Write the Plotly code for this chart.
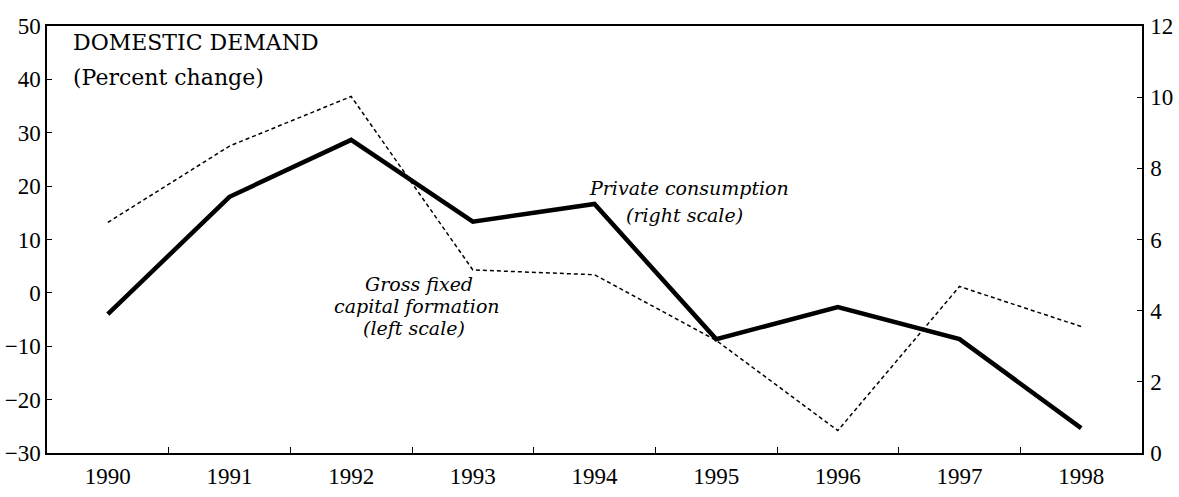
import plotly.graph_objects as go

years = [1990, 1991, 1992, 1993, 1994, 1995, 1996, 1997, 1998]
gfcf_left = [13.2, 27.5, 36.8, 4.3, 3.4, -8.9, -25.8, 1.2, -6.3]
private_cons_right = [3.9, 7.2, 8.8, 6.5, 7.0, 3.2, 4.1, 3.2, 0.7]
left_ticks = [-30, -20, -10, 0, 10, 20, 30, 40, 50]
right_ticks = [0, 2, 4, 6, 8, 10, 12]
year_labels = [str(y) for y in years]

TICKFONT = "Liberation Serif, DejaVu Serif, serif"

fig = go.Figure()
fig.add_trace(go.Scatter(
    x=years, y=gfcf_left, mode="lines", yaxis="y",
    line=dict(color="black", width=1.5, dash="4px,3px"),
    name="Gross fixed capital formation (left scale)", showlegend=False))
fig.add_trace(go.Scatter(
    x=years, y=private_cons_right, mode="lines", yaxis="y2",
    line=dict(color="black", width=4.5),
    name="Private consumption (right scale)", showlegend=False))

axis_font = dict(family=TICKFONT, size=23, color="black")

fig.update_layout(
    width=1179, height=497,
    margin=dict(l=47, r=37, t=26, b=44),
    paper_bgcolor="white", plot_bgcolor="white",
    xaxis=dict(
        range=[1989.5, 1998.5], tickmode="array", tickvals=years, ticktext=year_labels,
        ticks="inside", ticklen=0, showgrid=False, zeroline=False, automargin=False,
        showline=True, mirror=True, linecolor="black", linewidth=1.5,
        tickfont=axis_font, ticklabelstandoff=2,
        minor=dict(ticks="inside", tick0=1990.5, dtick=1, ticklen=6,
                   tickcolor="black", tickwidth=1, showgrid=False),
    ),
    yaxis=dict(
        range=[-30, 50], tickmode="array", tickvals=left_ticks,
        ticks="inside", ticklen=5, tickcolor="black", automargin=False,
        showgrid=False, zeroline=False,
        showline=True, linecolor="black", linewidth=1.5,
        tickfont=axis_font, ticklabelstandoff=0,
    ),
    yaxis2=dict(
        range=[0, 12], overlaying="y", side="right", tickmode="array", tickvals=right_ticks,
        ticks="inside", ticklen=5, tickcolor="black", automargin=False,
        showgrid=False, zeroline=False,
        showline=True, linecolor="black", linewidth=1.5,
        tickfont=axis_font, ticklabelstandoff=2,
    ),
    font=dict(family=TICKFONT, color="black"),
)

title_font = dict(family="DejaVu Serif, Liberation Serif, serif", size=22, color="black")
fig.add_annotation(xref="paper", yref="paper", x=0.022, y=0.962, xanchor="left", yanchor="middle",
                   text="DOMESTIC DEMAND", showarrow=False, font=title_font)
fig.add_annotation(xref="paper", yref="paper", x=0.022, y=0.88, xanchor="left", yanchor="middle",
                   text="(Percent change)", showarrow=False, font=title_font)

label_font = dict(family="DejaVu Serif, Liberation Serif, serif", size=19, color="black", style="italic")
fig.add_annotation(x=1994.78, y=19.6, xref="x", yref="y", text="Private consumption",
                   showarrow=False, font=label_font)
fig.add_annotation(x=1994.74, y=14.6, xref="x", yref="y", text="(right scale)",
                   showarrow=False, font=label_font)
fig.add_annotation(x=1992.56, y=1.7, xref="x", yref="y", text="Gross fixed",
                   showarrow=False, font=label_font)
fig.add_annotation(x=1992.54, y=-2.5, xref="x", yref="y", text="capital formation",
                   showarrow=False, font=label_font)
fig.add_annotation(x=1992.52, y=-6.6, xref="x", yref="y", text="(left scale)",
                   showarrow=False, font=label_font)

fig.write_html(
    "out.html",
    config={"displayModeBar": False},
    post_script="document.body.style.margin='0';document.body.style.overflow='hidden';",
)
